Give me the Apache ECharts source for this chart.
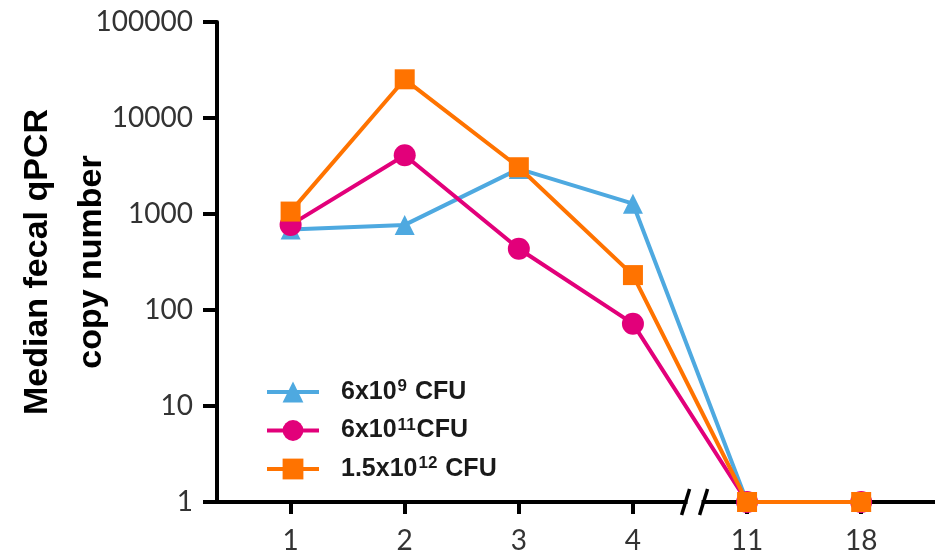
<!DOCTYPE html>
<html>
<head>
<meta charset="utf-8">
<script src="https://cdn.jsdelivr.net/npm/echarts@6/dist/echarts.min.js"></script>
<style>html,body{margin:0;padding:0;background:#fff}#c{width:935px;height:556px}</style>
</head>
<body>
<div id="c"></div>
<script>
var categories = ['1', '2', '3', '4', '11', '18'];
var yTicks = [1, 10, 100, 1000, 10000, 100000];
var seriesNames = ['6x10^9 CFU', '6x10^11CFU', '1.5x10^12 CFU'];
var low = [690, 770, 2950, 1280, 1, 1];        // 6x10^9 CFU
var mid = [770, 4090, 435, 72, 1, 1];         // 6x10^11 CFU
var high = [1060, 25300, 3070, 231, 1, 1];    // 1.5x10^12 CFU
var colors = ['#4EA9E0', '#E2007A', '#FF7300'];
var symbols = ['triangle', 'circle', 'rect'];
var symbolSizes = [20, 22, 20];

function toPairs(arr) { return arr.map(function (v, i) { return [i + 1, v]; }); }
var positions = categories.map(function (c, i) { return i + 1; });

var legendRich = {
  t: { fontFamily: 'Liberation Sans', fontWeight: 'bold', fontSize: 25, color: '#1a1a1a', lineHeight: 28 },
  s: { fontFamily: 'Liberation Sans', fontWeight: 'bold', fontSize: 17, color: '#1a1a1a', verticalAlign: 'top', lineHeight: 28, padding: [0, 1, 9, 1] }
};
function legendLabel(name) {
  var m = name.match(/^(.*?10)\^(\d+)(.*)$/);
  return '{t|' + m[1] + '}{s|' + m[2] + '}{t|' + m[3] + '}';
}

var allData = [low, mid, high];
var chart = echarts.init(document.getElementById('c'), null, { renderer: 'canvas' });
var option = {
  animation: false,
  backgroundColor: '#fff',
  grid: { left: 217, right: 0, top: 22, bottom: 54, containLabel: false, outerBoundsMode: 'none' },
  xAxis: {
    type: 'value', min: 0.355, max: 6.647,
    axisLine: { show: true, onZero: false, lineStyle: { color: '#000', width: 4 } },
    axisTick: { show: true, length: 12, inside: false, customValues: positions, lineStyle: { color: '#000', width: 4 } },
    axisLabel: { customValues: positions, margin: 25, fontFamily: 'Lato', fontSize: 28, color: '#333',
      formatter: function (v) { return categories[Math.round(v) - 1]; } },
    splitLine: { show: false }
  },
  yAxis: {
    type: 'log', logBase: 10, min: 1, max: 100000,
    name: 'Median fecal qPCR\ncopy number', nameLocation: 'middle', nameGap: 98, nameRotate: 90,
    nameMoveOverlap: false,
    nameTextStyle: { fontFamily: 'Liberation Sans', fontWeight: 'bold', fontSize: 34, color: '#000', lineHeight: 54 },
    axisLine: { show: true, lineStyle: { color: '#000', width: 4 } },
    axisTick: { show: true, length: 14, lineStyle: { color: '#000', width: 4 } },
    axisLabel: { margin: 24, fontFamily: 'Lato', fontSize: 28, color: '#333',
      formatter: function (v) { return String(Math.round(v)); } },
    minorTick: { show: false },
    splitLine: { show: false }
  },
  legend: {
    orient: 'vertical', left: 260, top: 373, itemGap: 12,
    itemWidth: 52, itemHeight: 26,
    data: seriesNames,
    formatter: legendLabel,
    lineStyle: { width: 4 },
    textStyle: { rich: legendRich, padding: [0, 0, 0, 17] }
  },
  series: seriesNames.map(function (n, i) {
    return {
      name: n, type: 'line', data: toPairs(allData[i]),
      symbol: symbols[i], symbolSize: symbolSizes[i], showAllSymbol: true,
      clip: false,
      itemStyle: { color: colors[i] },
      lineStyle: { color: colors[i], width: 4 },
      z: 3 + i
    };
  })
};
chart.setOption(option);

// axis break marks between categories '4' and '11'
var p = chart.convertToPixel({ gridIndex: 0 }, [4.54, 1]);
var bx = p[0], by = p[1];
chart.setOption({
  graphic: [
    { type: 'rect', shape: { x: bx - 7, y: by - 4, width: 14, height: 8 }, style: { fill: '#fff' }, z: 10 },
    { type: 'line', shape: { x1: bx - 13, y1: by + 13, x2: bx - 5, y2: by - 13 }, style: { stroke: '#000', lineWidth: 3.5 }, z: 11 },
    { type: 'line', shape: { x1: bx + 5, y1: by + 13, x2: bx + 13, y2: by - 13 }, style: { stroke: '#000', lineWidth: 3.5 }, z: 11 }
  ]
});
</script>
</body>
</html>
